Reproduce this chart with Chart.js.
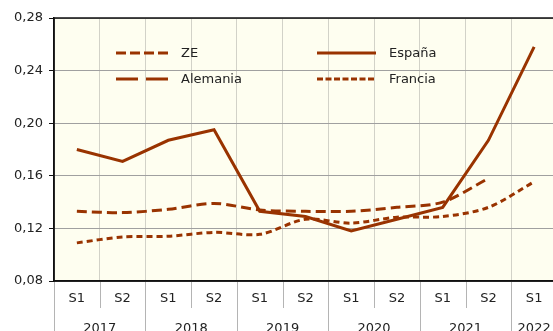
<!DOCTYPE html>
<html lang="es">
<head>
<meta charset="utf-8">
<script src="https://cdn.jsdelivr.net/npm/chart.js@4/dist/chart.umd.min.js"></script>
<style>
  html, body { margin: 0; padding: 0; background: #fff; overflow: hidden; }
  #wrap { width: 560px; height: 331px; }
</style>
</head>
<body>
<div id="wrap"><canvas id="grafico" width="560" height="331"></canvas></div>
<script>
// --- DATOS --- //
const semestres = ['S1', 'S2', 'S1', 'S2', 'S1', 'S2', 'S1', 'S2', 'S1', 'S2', 'S1'];
const anios = ['2017', '2017', '2018', '2018', '2019', '2019', '2020', '2020', '2021', '2021', '2022'];

const ze       = [0.133, 0.132, 0.1345, 0.139, 0.134, 0.133, 0.133, 0.136, 0.140, 0.158, null];
const espana   = [0.180, 0.171, 0.187, 0.195, 0.133, 0.129, 0.118, 0.127, 0.136, 0.187, 0.258];
const alemania = [null, null, null, null, null, null, null, null, null, null, null];
const francia  = [0.109, 0.1135, 0.114, 0.117, 0.1155, 0.127, 0.124, 0.1285, 0.129, 0.136, 0.1555];

const ejeY = { min: 0.08, max: 0.28, paso: 0.04 };

const MARRON = '#993300';
const FUENTE = '"DejaVu Sans", Verdana, sans-serif';

// --- PLUGINS --- //
// fondo crema del área de trazado
const fondoPlugin = {
  id: 'fondo',
  beforeDraw(chart) {
    const { ctx, chartArea: a } = chart;
    ctx.save();
    ctx.fillStyle = '#fefef0';
    ctx.fillRect(a.left, a.top, a.right - a.left, a.bottom - a.top);
    ctx.restore();
  }
};

// borde, años agrupados bajo el eje y leyenda en dos columnas
const extrasPlugin = {
  id: 'extras',
  afterDraw(chart) {
    const { ctx, chartArea: a } = chart;
    const x = chart.scales.x;
    const ancho = x.getPixelForValue(1) - x.getPixelForValue(0);
    const fondoCanvas = chart.height;

    ctx.save();
    // marco del área
    ctx.strokeStyle = '#111';
    ctx.lineWidth = 1.5;
    ctx.strokeRect(a.left, a.top, a.right - a.left, a.bottom - a.top);

    // separadores del eje de categorías
    ctx.strokeStyle = '#b4b4b4';
    ctx.lineWidth = 1;
    for (let i = 0; i <= semestres.length; i++) {
      const px = Math.round(x.getPixelForValue(i) - ancho / 2) + 0.5;
      const cambioAnio = i === 0 || i === semestres.length || anios[i] !== anios[i - 1];
      ctx.beginPath();
      ctx.moveTo(px, a.bottom + 1);
      ctx.lineTo(px, cambioAnio ? fondoCanvas : a.bottom + 27);
      ctx.stroke();
    }

    // etiquetas de año centradas en su grupo
    ctx.fillStyle = '#222';
    ctx.font = '13px ' + FUENTE;
    ctx.textAlign = 'center';
    ctx.textBaseline = 'alphabetic';
    let inicio = 0;
    for (let i = 1; i <= anios.length; i++) {
      if (i === anios.length || anios[i] !== anios[inicio]) {
        const cx = (x.getPixelForValue(inicio) + x.getPixelForValue(i - 1)) / 2;
        ctx.fillText(anios[inicio], cx, a.bottom + 51);
        inicio = i;
      }
    }

    // leyenda
    const columnas = [{ x0: 116, x1: 168 }, { x0: 317, x1: 376 }];
    const filas = [53, 79];
    const orden = [0, 1, 2, 3]; // ZE, España, Alemania, Francia
    ctx.textAlign = 'left';
    ctx.textBaseline = 'middle';
    orden.forEach((idx, k) => {
      const ds = chart.data.datasets[idx];
      const col = columnas[k % 2];
      const y = filas[Math.floor(k / 2)];
      ctx.strokeStyle = ds.borderColor;
      ctx.lineWidth = ds.borderWidth;
      ctx.setLineDash(ds.legendDash || ds.borderDash || []);
      ctx.beginPath();
      ctx.moveTo(col.x0, y);
      ctx.lineTo(col.x1, y);
      ctx.stroke();
      ctx.setLineDash([]);
      ctx.fillStyle = '#222';
      ctx.fillText(ds.label, col.x1 + 13, y + 1);
    });
    ctx.restore();
  }
};

// --- GRÁFICO --- //
new Chart(document.getElementById('grafico'), {
  type: 'line',
  data: {
    labels: semestres,
    datasets: [
      { label: 'ZE', data: ze, borderColor: MARRON, borderWidth: 3, borderDash: [10, 5], legendDash: [10, 4], tension: 0.3, pointRadius: 0 },
      { label: 'España', data: espana, borderColor: MARRON, borderWidth: 3, tension: 0, pointRadius: 0 },
      { label: 'Alemania', data: alemania, borderColor: MARRON, borderWidth: 3, borderDash: [22, 8], tension: 0.3, pointRadius: 0 },
      { label: 'Francia', data: francia, borderColor: MARRON, borderWidth: 3, borderDash: [6, 4], legendDash: [6, 2.5], tension: 0.3, pointRadius: 0 }
    ]
  },
  options: {
    responsive: false,
    animation: false,
    layout: { padding: { top: 18, right: 3, left: 0, bottom: 0 } },
    plugins: { legend: { display: false }, tooltip: { enabled: false } },
    scales: {
      x: {
        offset: true,
        grid: { offset: true, color: '#d2d2c8', drawTicks: false },
        border: { color: '#111', width: 1.5 },
        ticks: { color: '#222', font: { family: FUENTE, size: 13 }, padding: 10, maxRotation: 0, autoSkip: false },
        afterFit(scale) { scale.height = 50; }
      },
      y: {
        min: ejeY.min,
        max: ejeY.max,
        grid: { color: '#a0a0a0', tickColor: '#111', tickLength: 5 },
        border: { color: '#111', width: 1.5 },
        ticks: {
          stepSize: ejeY.paso,
          padding: 6,
          color: '#222',
          font: { family: FUENTE, size: 13 },
          callback: v => v.toFixed(2).replace('.', ',')
        },
        afterFit(scale) { scale.width = 54; }
      }
    }
  },
  plugins: [fondoPlugin, extrasPlugin]
});
</script>
</body>
</html>
